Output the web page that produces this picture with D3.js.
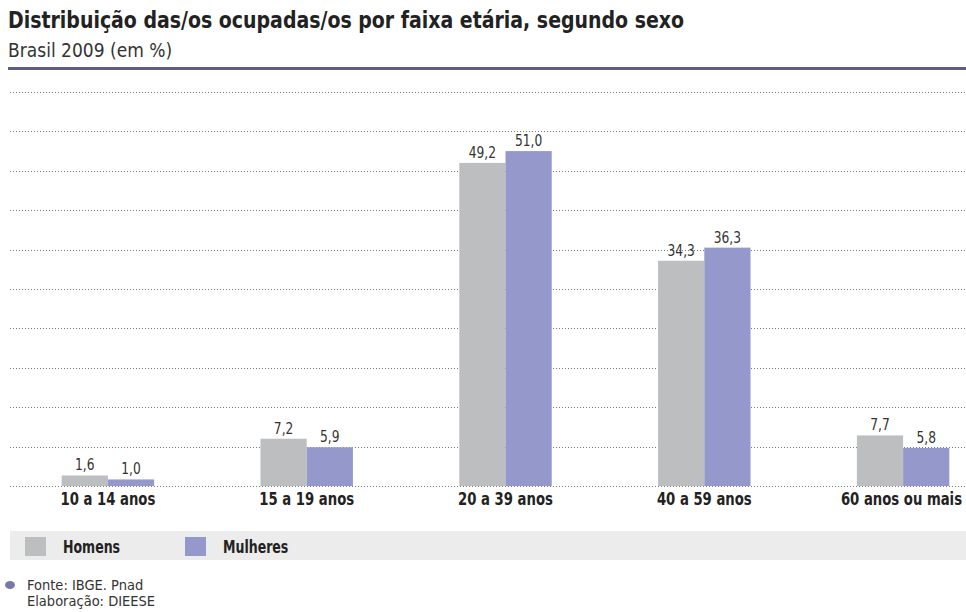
<!DOCTYPE html>
<html>
<head>
<meta charset="utf-8">
<script src="https://cdn.jsdelivr.net/npm/d3@7"></script>
<style>
  body { margin: 0; background: #fff; }
  svg text { font-family: "DejaVu Sans Condensed", "Liberation Sans Narrow", sans-serif; }
</style>
</head>
<body>
<div id="main"></div>
<script>
// data
const categories = ['10 a 14 anos', '15 a 19 anos', '20 a 39 anos', '40 a 59 anos', '60 anos ou mais'];
const series = ['Homens', 'Mulheres'];
const homens = [1.6, 7.2, 49.2, 34.3, 7.7];
const mulheres = [1.0, 5.9, 51.0, 36.3, 5.8];
const gridValues = [0, 6, 12, 18, 24, 30, 36, 42, 48, 54, 60];

const colors = { Homens: '#bdbec0', Mulheres: '#9598cb' };
const fmt = v => d3.format('.1f')(v).replace('.', ',');

// squeeze text horizontally, the original uses a condensed face
function condense(sel, k) {
  sel.each(function() {
    const w = this.getComputedTextLength();
    d3.select(this).attr('textLength', w * k).attr('lengthAdjust', 'spacingAndGlyphs');
  });
}

const W = 966, H = 612;
const svg = d3.select('#main').append('svg').attr('width', W).attr('height', H);

// header
svg.append('text').attr('x', 8).attr('y', 28)
  .attr('font-size', 23).attr('font-weight', 'bold').attr('fill', '#222')
  .text('Distribuição das/os ocupadas/os por faixa etária, segundo sexo')
  .call(condense, 0.915);
svg.append('text').attr('x', 8).attr('y', 57)
  .attr('font-size', 19).attr('fill', '#333')
  .text('Brasil 2009 (em %)');
svg.append('rect').attr('x', 8).attr('y', 67).attr('width', W - 8).attr('height', 3).attr('fill', '#5b5f88');

// scales
const y = d3.scaleLinear().domain([0, 60]).range([486, 92]);
const x = d3.scaleBand().domain(categories).range([8, 1003]).paddingInner(0.535).paddingOuter(0.27);
const xs = d3.scaleBand().domain(series).range([0, x.bandwidth()]);

// grid
svg.append('g').selectAll('line').data(gridValues).join('line')
  .attr('x1', 10).attr('x2', W)
  .attr('y1', d => Math.round(y(d)) + 0.5).attr('y2', d => Math.round(y(d)) + 0.5)
  .attr('stroke', '#777').attr('stroke-width', 1).attr('stroke-dasharray', '1 2');

// bars
const rows = categories.map((c, i) => ({ cat: c, values: [
  { key: 'Homens', v: homens[i] }, { key: 'Mulheres', v: mulheres[i] }] }));

const groups = svg.append('g').selectAll('g').data(rows).join('g')
  .attr('transform', d => `translate(${x(d.cat)},0)`);

groups.selectAll('rect').data(d => d.values).join('rect')
  .attr('x', d => xs(d.key)).attr('width', xs.bandwidth())
  .attr('y', d => y(d.v)).attr('height', d => y(0) - y(d.v))
  .attr('fill', d => colors[d.key]);

groups.selectAll('text.val').data(d => d.values).join('text')
  .attr('class', 'val')
  .attr('x', d => xs(d.key) + xs.bandwidth() / 2).attr('y', d => y(d.v) - 5)
  .attr('text-anchor', 'middle').attr('font-size', 16).attr('fill', '#333')
  .text(d => fmt(d.v))
  .call(condense, 0.85);

// x axis labels
const xAxis = svg.append('g').attr('transform', `translate(0,${y(0)})`)
  .call(d3.axisBottom(x).tickSize(0).tickPadding(7));
xAxis.select('.domain').remove();
xAxis.selectAll('text').attr('font-size', 17.5).attr('font-weight', 'bold').attr('fill', '#222')
  .style('font-family', '"DejaVu Sans Condensed", "Liberation Sans Narrow", sans-serif')
  .call(condense, 0.84);
// keep the last label inside the page, as in the original
xAxis.selectAll('.tick').each(function(d) {
  const t = d3.select(this).select('text');
  const half = +t.attr('textLength') / 2;
  const over = x(d) + x.bandwidth() / 2 + half - (W - 4);
  if (over > 0) t.attr('x', -over);
});

// legend
const legend = svg.append('g');
legend.append('rect').attr('x', 10).attr('y', 531).attr('width', W - 10).attr('height', 29).attr('fill', '#ececec');
const li = legend.selectAll('g').data(series).join('g')
  .attr('transform', (d, i) => `translate(${25 + i * 160},537)`);
li.append('rect').attr('width', 21).attr('height', 19).attr('fill', d => colors[d]);
li.append('text').attr('x', 38).attr('y', 16).attr('font-size', 17).attr('font-weight', 'bold')
  .attr('fill', '#222').text(d => d)
  .call(condense, 0.82);

// footer
svg.append('ellipse').attr('cx', 10).attr('cy', 585).attr('rx', 5).attr('ry', 4).attr('fill', '#7879aa');
svg.append('text').attr('x', 27).attr('y', 590).attr('font-size', 14.5).attr('fill', '#333').text('Fonte: IBGE. Pnad');
svg.append('text').attr('x', 27).attr('y', 606).attr('font-size', 14.5).attr('fill', '#333').text('Elaboração: DIEESE');
</script>
</body>
</html>
